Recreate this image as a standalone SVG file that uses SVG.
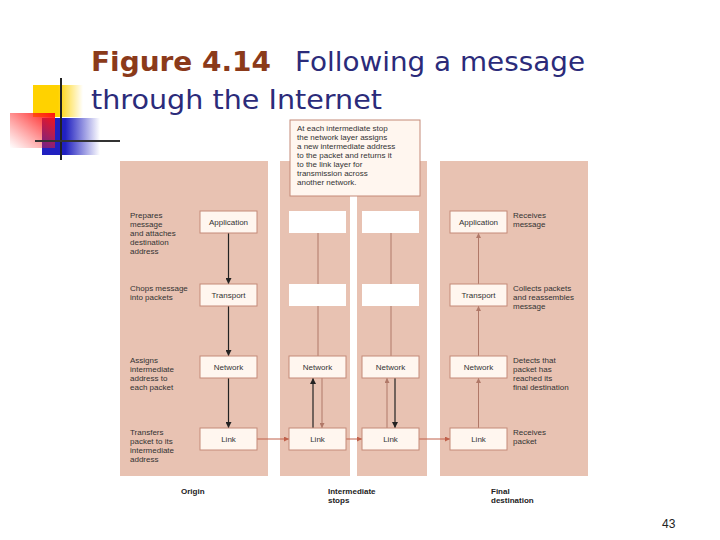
<svg xmlns="http://www.w3.org/2000/svg" width="720" height="540" viewBox="0 0 720 540">
<defs>
<linearGradient id="gy" x1="0" x2="1"><stop offset="0.5" stop-color="#FFD200"/><stop offset="1" stop-color="#FFD200" stop-opacity="0"/></linearGradient>
<linearGradient id="gr" x1="1" y1="0" x2="0" y2="1"><stop offset="0" stop-color="#FF1010"/><stop offset="1" stop-color="#FF3030" stop-opacity="0"/></linearGradient>
<linearGradient id="gb" x1="0" x2="1"><stop offset="0.4" stop-color="#2020C0"/><stop offset="1" stop-color="#2020C0" stop-opacity="0"/></linearGradient>
<marker id="ad" viewBox="0 0 10 10" refX="10" refY="5" markerWidth="5" markerHeight="5" orient="auto"><path d="M0,0L10,5L0,10z" fill="#222"/></marker>
<marker id="al" viewBox="0 0 10 10" refX="10" refY="5" markerWidth="5" markerHeight="5" orient="auto"><path d="M0,0L10,5L0,10z" fill="#B07868"/></marker>
<marker id="ar" viewBox="0 0 10 10" refX="10" refY="5" markerWidth="5" markerHeight="5" orient="auto"><path d="M0,0L10,5L0,10z" fill="#C0604A"/></marker>
</defs>
<style>
.p{fill:#E8C2B2}
.b{fill:#FFF6EF;stroke:#C48A78;stroke-width:1}
.w{fill:#FFFFFF}
.t{font-family:"Liberation Sans",Arial,sans-serif;font-size:8px;fill:#333}
.c{text-anchor:middle}
.lb{font-family:"Liberation Sans",Arial,sans-serif;font-size:8px;font-weight:bold;fill:#222}
.d{stroke:#222;stroke-width:1.2;fill:none;marker-end:url(#ad)}
.l{stroke:#B07868;stroke-width:1;fill:none}
.la{stroke:#B07868;stroke-width:1;fill:none;marker-end:url(#al)}
.r{stroke:#C0604A;stroke-width:1;fill:none;marker-end:url(#ar)}
</style>
<rect width="720" height="540" fill="#fff"/>
<g id="logo">
<rect x="33" y="85" width="50" height="32" fill="url(#gy)"/>
<rect x="42" y="118" width="58" height="37" fill="url(#gb)"/>
<rect x="10" y="113" width="45" height="35" fill="url(#gr)"/>
<line x1="61" y1="78" x2="61" y2="160" stroke="#222" stroke-width="2"/>
<line x1="35" y1="141" x2="120" y2="141" stroke="#333" stroke-width="2"/>
</g>
<g id="title" font-family="DejaVu Sans,Verdana,sans-serif" font-size="27">
<text x="91" y="71" fill="#8B3A1A" font-weight="bold" textLength="180" lengthAdjust="spacingAndGlyphs">Figure 4.14</text>
<text x="295" y="71" fill="#2B2B7A" textLength="290" lengthAdjust="spacingAndGlyphs">Following a message</text>
<text x="91" y="109" fill="#2B2B7A" textLength="291" lengthAdjust="spacingAndGlyphs">through the Internet</text>
</g>
<g id="panels">
<rect class="p" x="120" y="161" width="148" height="315"/>
<rect class="p" x="280" y="161" width="70" height="315"/>
<rect class="p" x="357" y="161" width="70" height="315"/>
<rect class="p" x="440" y="161" width="148" height="315"/>
</g>
<g id="callout">
<rect class="b" x="290" y="120" width="130" height="76"/>
<text class="t"><tspan x="297" y="131">At each intermediate stop</tspan><tspan x="297" y="140">the network layer assigns</tspan><tspan x="297" y="149">a new intermediate address</tspan><tspan x="297" y="158">to the packet and returns it</tspan><tspan x="297" y="167">to the link layer for</tspan><tspan x="297" y="176">transmission across</tspan><tspan x="297" y="185">another network.</tspan></text>
</g>
<g id="connectors">
<line class="d" x1="228.5" y1="233" x2="228.5" y2="284"/>
<line class="d" x1="228.5" y1="306" x2="228.5" y2="356"/>
<line class="d" x1="228.5" y1="378" x2="228.5" y2="428"/>
<line class="l" x1="318" y1="233" x2="318" y2="284"/>
<line class="l" x1="318" y1="306" x2="318" y2="356"/>
<line class="l" x1="391" y1="233" x2="391" y2="284"/>
<line class="l" x1="391" y1="306" x2="391" y2="356"/>
<line class="d" x1="313" y1="428" x2="313" y2="378"/>
<line class="la" x1="322" y1="378" x2="322" y2="428"/>
<line class="la" x1="387" y1="428" x2="387" y2="378"/>
<line class="d" x1="395" y1="378" x2="395" y2="428"/>
<line class="la" x1="478.5" y1="428" x2="478.5" y2="378"/>
<line class="la" x1="478.5" y1="356" x2="478.5" y2="306"/>
<line class="la" x1="478.5" y1="284" x2="478.5" y2="233"/>
<line class="r" x1="257" y1="439" x2="289" y2="439"/>
<line class="r" x1="346" y1="439" x2="362" y2="439"/>
<line class="r" x1="419" y1="439" x2="450" y2="439"/>
</g>
<g id="origin">
<rect class="b" x="200" y="211" width="57" height="22"/><text class="t c" x="228.5" y="225">Application</text>
<rect class="b" x="200" y="284" width="57" height="22"/><text class="t c" x="228.5" y="298">Transport</text>
<rect class="b" x="200" y="356" width="57" height="22"/><text class="t c" x="228.5" y="370">Network</text>
<rect class="b" x="200" y="428" width="57" height="22"/><text class="t c" x="228.5" y="442">Link</text>
<text class="t"><tspan x="130" y="218">Prepares</tspan><tspan x="130" y="227">message</tspan><tspan x="130" y="236">and attaches</tspan><tspan x="130" y="245">destination</tspan><tspan x="130" y="254">address</tspan></text>
<text class="t"><tspan x="130" y="291">Chops message</tspan><tspan x="130" y="300">into packets</tspan></text>
<text class="t"><tspan x="130" y="363">Assigns</tspan><tspan x="130" y="372">intermediate</tspan><tspan x="130" y="381">address to</tspan><tspan x="130" y="390">each packet</tspan></text>
<text class="t"><tspan x="130" y="435">Transfers</tspan><tspan x="130" y="444">packet to its</tspan><tspan x="130" y="453">intermediate</tspan><tspan x="130" y="462">address</tspan></text>
<text class="lb" x="181" y="494">Origin</text>
</g>
<g id="intermediate">
<rect class="w" x="289" y="211" width="57" height="22"/><rect class="w" x="362" y="211" width="57" height="22"/>
<rect class="w" x="289" y="284" width="57" height="22"/><rect class="w" x="362" y="284" width="57" height="22"/>
<rect class="b" x="289" y="356" width="57" height="22"/><text class="t c" x="317.5" y="370">Network</text>
<rect class="b" x="362" y="356" width="57" height="22"/><text class="t c" x="390.5" y="370">Network</text>
<rect class="b" x="289" y="428" width="57" height="22"/><text class="t c" x="317.5" y="442">Link</text>
<rect class="b" x="362" y="428" width="57" height="22"/><text class="t c" x="390.5" y="442">Link</text>
<text class="lb"><tspan x="328" y="494">Intermediate</tspan><tspan x="328" y="503">stops</tspan></text>
</g>
<g id="final">
<rect class="b" x="450" y="211" width="57" height="22"/><text class="t c" x="478.5" y="225">Application</text>
<rect class="b" x="450" y="284" width="57" height="22"/><text class="t c" x="478.5" y="298">Transport</text>
<rect class="b" x="450" y="356" width="57" height="22"/><text class="t c" x="478.5" y="370">Network</text>
<rect class="b" x="450" y="428" width="57" height="22"/><text class="t c" x="478.5" y="442">Link</text>
<text class="t"><tspan x="513" y="218">Receives</tspan><tspan x="513" y="227">message</tspan></text>
<text class="t"><tspan x="513" y="291">Collects packets</tspan><tspan x="513" y="300">and reassembles</tspan><tspan x="513" y="309">message</tspan></text>
<text class="t"><tspan x="513" y="363">Detects that</tspan><tspan x="513" y="372">packet has</tspan><tspan x="513" y="381">reached its</tspan><tspan x="513" y="390">final destination</tspan></text>
<text class="t"><tspan x="513" y="435">Receives</tspan><tspan x="513" y="444">packet</tspan></text>
<text class="lb"><tspan x="491" y="494">Final</tspan><tspan x="491" y="503">destination</tspan></text>
</g>
<text x="662" y="528" font-family="Liberation Sans,Arial,sans-serif" font-size="12" fill="#222">43</text>
</svg>
